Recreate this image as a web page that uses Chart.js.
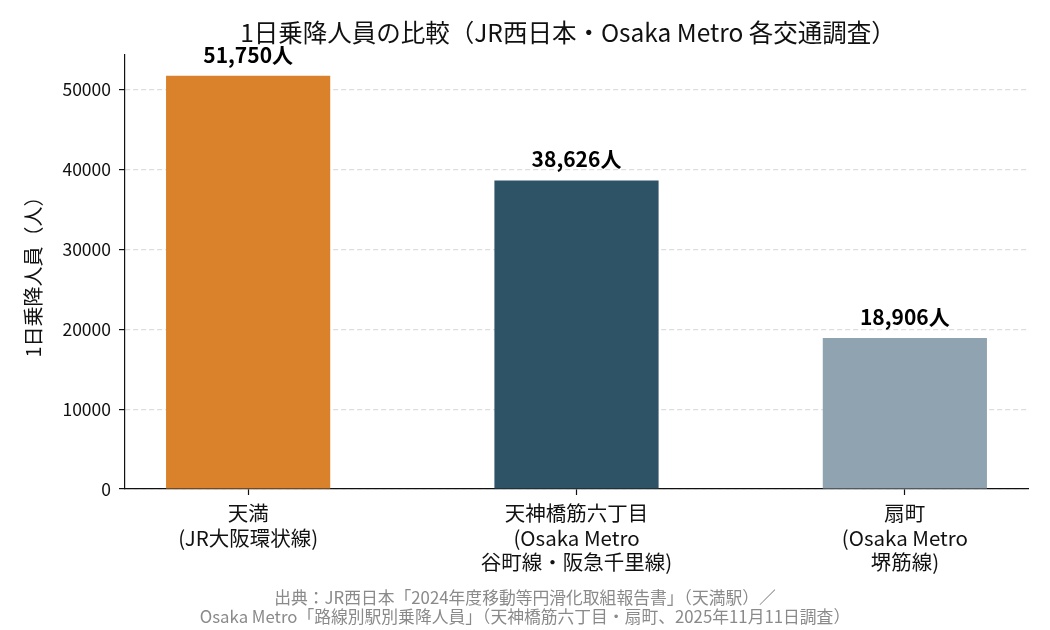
<!DOCTYPE html>
<html>
<head>
<meta charset="utf-8">
<script src="https://cdn.jsdelivr.net/npm/chart.js@4"></script>
<style>
  body { margin: 0; background: #fff; }
  #wrap { width: 1050px; height: 630px; }
</style>
</head>
<body>
<div id="wrap"><canvas id="myChart" width="1050" height="630"></canvas></div>
<script>
// データ
var stations = [
  ['天満', '(JR大阪環状線)'],
  ['天神橋筋六丁目', '(Osaka Metro', '谷町線・阪急千里線)'],
  ['扇町', '(Osaka Metro', '堺筋線)']
];
var riders = [51750, 38626, 18906];
var barColors = ['#D9822B', '#2E5266', '#8FA3B0'];
var yTicks = [0, 10000, 20000, 30000, 40000, 50000];
var titleText = '1日乗降人員の比較（JR西日本・Osaka Metro 各交通調査）';
var sourceLines = [
  '出典：JR西日本「2024年度移動等円滑化取組報告書」（天満駅）／',
  'Osaka Metro「路線別駅別乗降人員」（天神橋筋六丁目・扇町、2025年11月11日調査）'
];

var FONT = '"Noto Sans CJK JP", "Noto Sans", sans-serif';
Chart.defaults.font.family = FONT;
Chart.defaults.color = '#111';

// 棒の上に値を書く + タイトルと出典
var textPlugin = {
  id: 'textPlugin',
  afterDatasetsDraw: function(chart) {
    var c = chart.ctx;
    var meta = chart.getDatasetMeta(0);
    c.save();
    c.font = 'bold 21px ' + FONT;
    c.fillStyle = '#000';
    c.textAlign = 'center';
    c.textBaseline = 'middle';
    meta.data.forEach(function(bar, i) {
      c.fillText(riders[i].toLocaleString('en-US') + '人', bar.x, bar.y - 21);
    });
    c.font = '24.5px ' + FONT;
    c.fillStyle = '#111';
    c.fillText(titleText, 568, 33);
    c.font = '16.8px ' + FONT;
    c.fillStyle = '#8a8a8a';
    c.fillText(sourceLines[0], chart.width / 2, 598);
    c.fillText(sourceLines[1], chart.width / 2, 617);
    c.restore();
  }
};

var ctx = document.getElementById('myChart').getContext('2d');
var myChart = new Chart(ctx, {
  type: 'bar',
  data: {
    datasets: [{
      data: riders.map(function(v, i) { return { x: i, y: v }; }),
      backgroundColor: barColors,
      borderWidth: 0,
      barPercentage: 1,
      categoryPercentage: 0.5
    }]
  },
  options: {
    responsive: false,
    animation: false,
    layout: { padding: { top: 55, right: 22, bottom: 0, left: 0 } },
    plugins: {
      legend: { display: false },
      tooltip: { enabled: false }
    },
    scales: {
      x: {
        type: 'linear',
        min: -0.375,
        max: 2.375,
        offset: false,
        afterFit: function(scale) { scale.height = 141; },
        afterBuildTicks: function(scale) {
          scale.ticks = stations.map(function(s, i) { return { value: i }; });
        },
        ticks: {
          font: { size: 20.5, lineHeight: 1.2 },
          color: '#111',
          padding: 6,
          maxRotation: 0,
          autoSkip: false,
          callback: function(v) { return stations[v]; }
        },
        grid: {
          offset: false,
          drawOnChartArea: false,
          tickLength: 6,
          tickColor: '#111',
          tickWidth: 1.2
        },
        border: { color: '#111', width: 1.2 }
      },
      y: {
        min: 0,
        max: 54337.5,
        afterFit: function(scale) { scale.width = 125; },
        afterBuildTicks: function(scale) {
          scale.ticks = yTicks.map(function(v) { return { value: v }; });
        },
        ticks: {
          font: { size: 17.5 },
          color: '#111',
          padding: 8,
          callback: function(v) { return String(v); }
        },
        grid: {
          color: '#dddddd',
          lineWidth: 1.2,
          tickLength: 6,
          tickColor: '#111',
          tickWidth: 1.2,
          tickBorderDash: []
        },
        border: { color: '#111', width: 1.2, dash: [5, 3] },
        title: {
          display: true,
          text: '1日乗降人員（人）',
          font: { size: 20 },
          color: '#111',
          padding: { top: 21, bottom: 0 }
        }
      }
    }
  },
  plugins: [textPlugin]
});
</script>
</body>
</html>
